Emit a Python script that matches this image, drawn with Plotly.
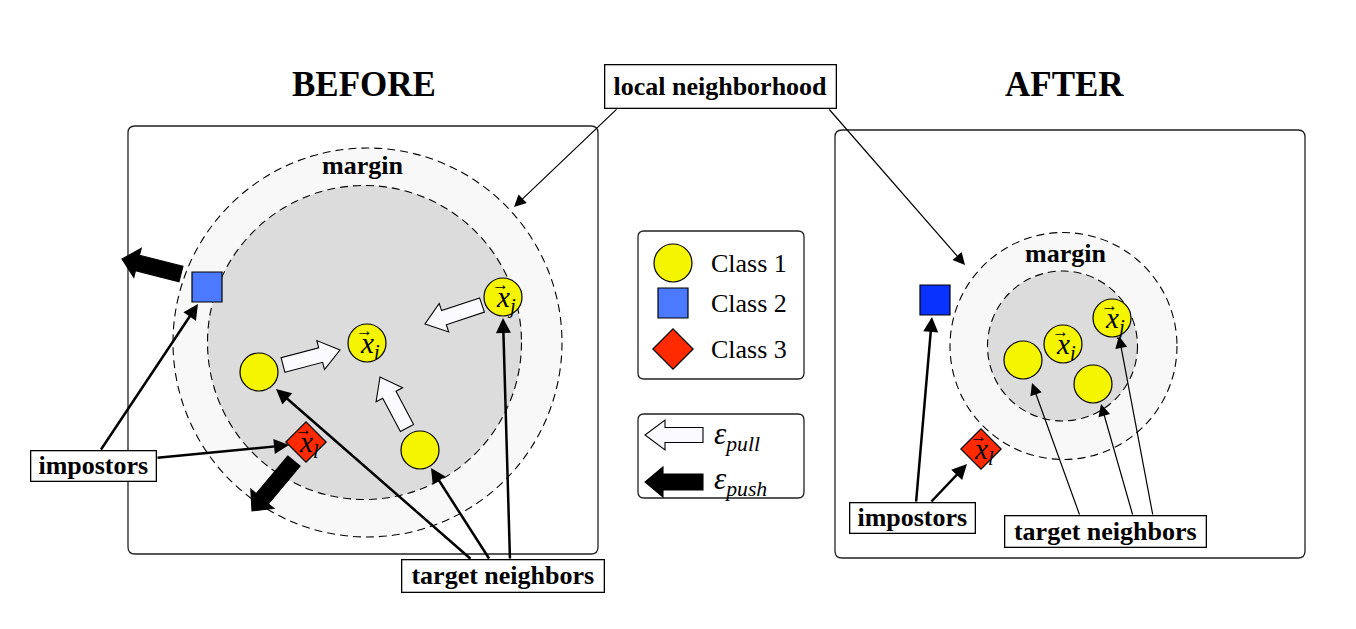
import plotly.graph_objects as go
import numpy as np

# ---------------- data ----------------
before_c1_x = [367, 503, 259, 420]
before_c1_y = [343, 297, 372, 450]
before_c2_x = [207]
before_c2_y = [287]
before_c3_x = [306]
before_c3_y = [442]

after_c1_x = [1063, 1112, 1023, 1093]
after_c1_y = [344, 318, 360, 384]
after_c2_x = [935]
after_c2_y = [300]
after_c3_x = [981]
after_c3_y = [449]

legend_labels = ["Class 1", "Class 2", "Class 3"]
legend_x = [673, 673, 673]
legend_y = [263, 303, 349]

# point labels: (x, y, subscript)
before_labels = [(367, 343, "i"), (503, 297, "j"), (306, 442, "l")]
after_labels = [(1063, 344, "i"), (1112, 318, "j"), (981, 449, "l")]

# block arrows (tail -> tip)
pull_arrows = [((283, 365), (340, 350)), ((482, 305), (425, 324)), ((407, 428), (380, 377))]
push_arrows = [((181, 274), (122, 259)), ((294, 461), (252, 511))]

YEL = "#f5f500"
BLUE1 = "#4b79ff"
BLUE2 = "#0a32ff"
RED = "#ff2a00"
SERIF = "Liberation Serif"

fig = go.Figure()

def rrect(x0, y0, x1, y1, r):
    return (f"M{x0+r},{y0} L{x1-r},{y0} Q{x1},{y0} {x1},{y0+r} L{x1},{y1-r} "
            f"Q{x1},{y1} {x1-r},{y1} L{x0+r},{y1} Q{x0},{y1} {x0},{y1-r} "
            f"L{x0},{y0+r} Q{x0},{y0} {x0+r},{y0} Z")

def block_arrow(p0, p1, sw, hw, hl):
    x0, y0 = p0; x1, y1 = p1
    d = np.array([x1 - x0, y1 - y0], float)
    L = np.hypot(*d); d /= L
    n = np.array([-d[1], d[0]])
    t = np.array([x0, y0], float); tip = np.array([x1, y1], float)
    neck = tip - d * hl
    pts = [t + n*sw/2, neck + n*sw/2, neck + n*hw/2, tip, neck - n*hw/2, neck - n*sw/2, t - n*sw/2]
    return "M" + " L".join(f"{p[0]:.1f},{p[1]:.1f}" for p in pts) + " Z"

shapes = []
# panels
shapes.append(dict(type="path", path=rrect(128, 126, 598, 554, 7), line=dict(color="#222", width=1.3),
                   fillcolor="white", layer="below"))
shapes.append(dict(type="path", path=rrect(835, 130, 1305, 558, 7), line=dict(color="#222", width=1.3),
                   fillcolor="white", layer="below"))
# legend boxes
shapes.append(dict(type="path", path=rrect(638, 231, 804, 379, 6), line=dict(color="#222", width=1.3),
                   fillcolor="white", layer="below"))
shapes.append(dict(type="path", path=rrect(638, 414, 804, 498, 6), line=dict(color="#222", width=1.3),
                   fillcolor="white", layer="below"))
# circles
dash = "8px,5px"
for cx, cy, r, fill in [(367.5, 342.5, 194.5, "#f8f8f8"), (364.5, 342.5, 157, "#dcdcdc"),
                        (1063.5, 346, 113.5, "#f8f8f8"), (1062.5, 346, 75, "#dcdcdc")]:
    shapes.append(dict(type="circle", x0=cx - r, x1=cx + r, y0=cy - r, y1=cy + r, fillcolor=fill,
                       line=dict(color="black", width=1.1, dash=dash), layer="below"))
# block arrows
for p0, p1 in pull_arrows:
    shapes.append(dict(type="path", path=block_arrow(p0, p1, 15, 30, 20), fillcolor="#fbfbff",
                       line=dict(color="black", width=1.1)))
for p0, p1 in push_arrows:
    shapes.append(dict(type="path", path=block_arrow(p0, p1, 16, 30, 16), fillcolor="black",
                       line=dict(color="black", width=1.1)))
shapes.append(dict(type="path", path=block_arrow((703, 435), (645, 435), 15, 30, 20), fillcolor="#fbfbff",
                   line=dict(color="black", width=1.1)))
shapes.append(dict(type="path", path=block_arrow((703, 482), (645, 482), 16, 30, 18), fillcolor="black",
                   line=dict(color="black", width=1.1)))

mline = dict(color="black", width=1.2)
def add_pts(xs, ys, sym, size, color):
    fig.add_trace(go.Scatter(x=xs, y=ys, mode="markers", hoverinfo="skip", showlegend=False,
                             marker=dict(symbol=sym, size=size, color=color, line=mline, opacity=1)))

add_pts(before_c1_x, before_c1_y, "circle", 38, YEL)
add_pts(before_c2_x, before_c2_y, "square", 30, BLUE1)
add_pts(before_c3_x, before_c3_y, "diamond", 31, RED)
add_pts(after_c1_x, after_c1_y, "circle", 38, YEL)
add_pts(after_c2_x, after_c2_y, "square", 30, BLUE2)
add_pts(after_c3_x, after_c3_y, "diamond", 31, RED)
fig.add_trace(go.Scatter(x=legend_x, y=legend_y, mode="markers", hoverinfo="skip", showlegend=False,
                         marker=dict(symbol=["circle", "square", "diamond"], size=[38, 30, 31],
                                     color=[YEL, BLUE1, RED], line=mline, opacity=1)))

ann = []
def arrow(tail, tip, w, size):
    ann.append(dict(x=tip[0], y=tip[1], ax=tail[0], ay=tail[1], xref="x", yref="y", axref="x", ayref="y",
                    text="", showarrow=True, arrowhead=2, arrowsize=size, arrowwidth=w, arrowcolor="black"))

# local neighborhood
arrow((618, 108), (514, 207), 1.2, 2.0)
arrow((828, 108), (965, 265), 1.2, 2.0)
# before impostors
arrow((100, 451), (198, 304), 2.5, 1.2)
arrow((156, 458), (289, 445), 2.5, 1.2)
# before target neighbors
arrow((472, 560), (276, 389), 2.5, 1.2)
arrow((490, 560), (431, 468), 2.5, 1.2)
arrow((510, 560), (503, 318), 2.5, 1.2)
# after impostors
arrow((916, 503), (932, 317), 2.5, 1.2)
arrow((930, 503), (967, 464), 2.5, 1.2)
# after target neighbors
arrow((1080, 516), (1032, 383), 1.2, 2.0)
arrow((1133, 516), (1101, 404), 1.2, 2.0)
arrow((1153, 516), (1119, 336), 1.2, 2.0)

def label_box(x, y, txt, w, h, size=26):
    ann.append(dict(x=x, y=y, xref="x", yref="y", text=f"<b>{txt}</b>", showarrow=False, width=w, height=h,
                    bgcolor="white", bordercolor="black", borderwidth=1.3, borderpad=0,
                    font=dict(family=SERIF, size=size, color="black")))

label_box(720, 86, "local neighborhood", 230, 42)
label_box(93, 466, "impostors", 124, 29)
label_box(503, 576, "target neighbors", 201, 31)
label_box(912, 518, "impostors", 124, 29)
label_box(1105, 531, "target neighbors", 200, 30)

def text(x, y, t, size, **kw):
    ann.append(dict(x=x, y=y, xref="x", yref="y", text=t, showarrow=False,
                    font=dict(family=SERIF, size=size, color="black"), **kw))

text(364, 84, "<b>BEFORE</b>", 35)
text(1064, 84, "<b>AFTER</b>", 35)
text(362, 165, "<b>margin</b>", 26)
text(1065, 253, "<b>margin</b>", 26)

for lab, ly in zip(legend_labels, legend_y):
    text(709, ly, lab, 26, xanchor="left")

for (x, y, s) in before_labels + after_labels:
    text(x + 3, y + 2, f"<i>x</i><sub><i>{s}</i></sub>", 29)
    text(x - 3, y - 13, "→", 17)

text(712, 436, "<i>ε</i><sub><i>pull</i></sub>", 31, xanchor="left")
text(712, 481, "<i>ε</i><sub><i>push</i></sub>", 31, xanchor="left")

fig.update_layout(
    width=1356, height=629, margin=dict(l=0, r=0, t=0, b=0),
    paper_bgcolor="white", plot_bgcolor="white",
    xaxis=dict(range=[0, 1356], visible=False, fixedrange=True),
    yaxis=dict(range=[629, 0], visible=False, fixedrange=True),
    shapes=shapes, annotations=ann, showlegend=False,
)

fig.write_html("out.html", config={"displayModeBar": False, "staticPlot": True},
               post_script="document.body.style.margin='0';")
